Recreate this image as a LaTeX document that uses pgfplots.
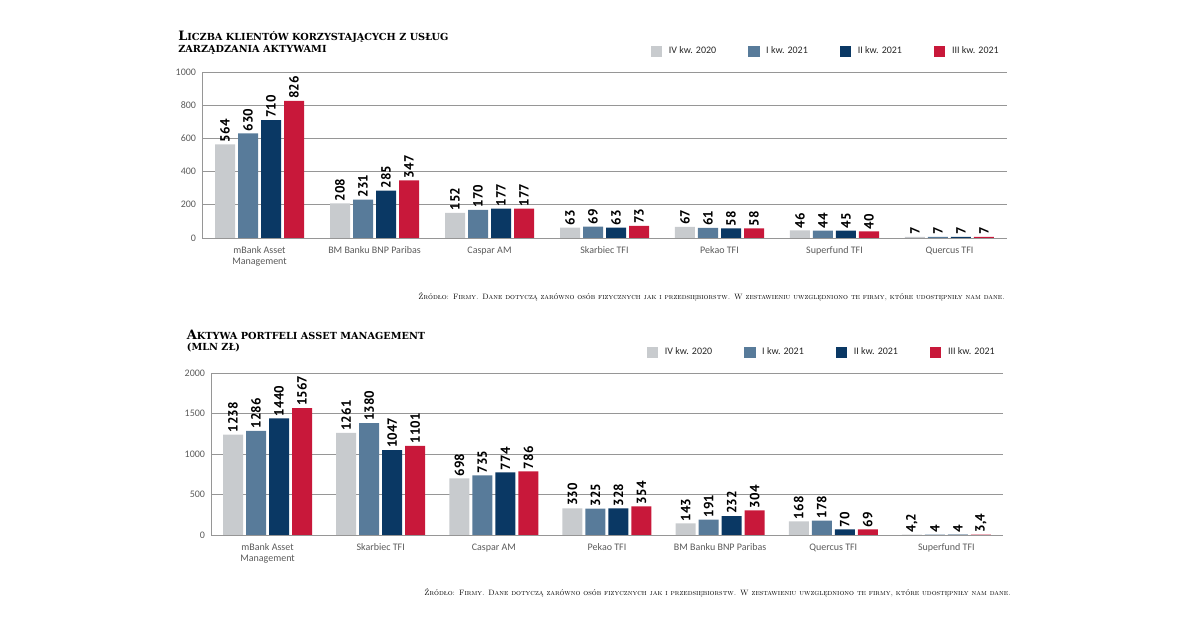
\documentclass[border=0pt]{standalone}
\usepackage{pgfplots}
\pgfplotsset{compat=1.18}
\usepackage{fontspec}
\newfontfamily\valfont{PT Sans}
\newfontfamily\catfont{Carlito}
\newfontfamily\titfont{DejaVu Serif}

\definecolor{cGray}{RGB}{200,203,206}
\definecolor{cSteel}{RGB}{88,123,154}
\definecolor{cNavy}{RGB}{10,56,100}
\definecolor{cRed}{RGB}{200,24,58}
\definecolor{gridc}{RGB}{150,150,150}
\definecolor{txt}{RGB}{90,90,90}

\newcommand\fsc[2]{{\fontsize{9.7}{10}\selectfont #1}{\fontsize{7.3}{8}\selectfont #2}}

\pgfplotsset{
  kl/.style={
    scale only axis, anchor=south west,
    ybar=2.25pt, bar width=15pt,
    axis lines*=left, axis line style={gridc, line width=0.7pt},
    ymajorgrids, grid style={gridc, line width=0.7pt},
    major tick length=0,
    xmin=-0.5, xmax=6.5, xtick={0,...,6}, ymin=0,
    tick label style={font=\catfont\fontsize{7.5}{8}\selectfont, text=txt},
    xticklabel style={align=center, yshift=-3pt},
    yticklabel style={xshift=-1pt},
    /pgf/number format/assume math mode=true,
    /pgf/number format/use comma,
    /pgf/number format/1000 sep={},
    nodes near coords,
    nodes near coords style={rotate=90, anchor=west, text=black,
      font=\valfont\bfseries\fontsize{10}{10}\selectfont, inner sep=1.5pt},
    every axis plot post/.append style={legend image code/.code={\fill[##1,draw=none] (0pt,-4.25pt) rectangle (8.5pt,4.25pt);}},
    legend columns=4,
    legend style={at={(rel axis cs:1,1)}, anchor=south east, xshift=-4pt, yshift=10pt,
      draw=none, fill=none, inner sep=0pt, text=black!85,
      font=\catfont\fontsize{7.5}{8}\selectfont,
      /tikz/every even column/.append style={column sep=22pt},
      /tikz/every odd column/.append style={column sep=3pt}},
  }
}

\begin{document}
\begin{tikzpicture}
\path[use as bounding box] (0,0) rectangle (900pt,472.5pt);

% --- top chart: clients
\node[anchor=base west, inner sep=0, font=\titfont\bfseries] at (133.5pt,441.75pt)
  {\fsc{L}{ICZBA KLIENTÓW KORZYSTAJĄCYCH Z USŁUG}};
\node[anchor=base west, inner sep=0, font=\titfont\bfseries] at (133.5pt,432.75pt)
  {\fsc{}{ZARZĄDZANIA AKTYWAMI}};

\begin{axis}[kl, at={(151.5pt,294pt)}, width=603.75pt, height=124.5pt,
  ymax=1000, ytick={0,200,...,1000},
  xticklabels={{mBank Asset\\Management},{BM Banku BNP Paribas},{Caspar AM},{Skarbiec TFI},{Pekao TFI},{Superfund TFI},{Quercus TFI}}]
\addplot[fill=cGray, draw=none] coordinates {(0,564) (1,208) (2,152) (3,63) (4,67) (5,46) (6,7)};
\addplot[fill=cSteel, draw=none] coordinates {(0,630) (1,231) (2,170) (3,69) (4,61) (5,44) (6,7)};
\addplot[fill=cNavy, draw=none] coordinates {(0,710) (1,285) (2,177) (3,63) (4,58) (5,45) (6,7)};
\addplot[fill=cRed, draw=none] coordinates {(0,826) (1,347) (2,177) (3,73) (4,58) (5,40) (6,7)};
\legend{IV kw. 2020, I kw. 2021, II kw. 2021, III kw. 2021}
\end{axis}

\node[anchor=base east, inner sep=0, font=\fontsize{5.8}{6}\selectfont\scshape] at (753.75pt,247.5pt)
  {Źródło: Firmy. Dane dotyczą zarówno osób fizycznych jak i przedsiębiorstw. W zestawieniu uwzględniono te firmy, które udostępniły nam dane.};

% --- bottom chart: assets
\node[anchor=base west, inner sep=0, font=\titfont\bfseries] at (140pt,217.5pt)
  {\fsc{A}{KTYWA PORTFELI ASSET MANAGEMENT}};
\node[anchor=base west, inner sep=0, font=\titfont\bfseries] at (140pt,209.25pt)
  {\fsc{}{(MLN ZŁ)}};

\begin{axis}[kl, at={(158.25pt,71.25pt)}, width=594pt, height=121.5pt,
  ymax=2000, ytick={0,500,...,2000},
  xticklabels={{mBank Asset\\Management},{Skarbiec TFI},{Caspar AM},{Pekao TFI},{BM Banku BNP Paribas},{Quercus TFI},{Superfund TFI}}]
\addplot[fill=cGray, draw=none] coordinates {(0,1238) (1,1261) (2,698) (3,330) (4,143) (5,168) (6,4.2)};
\addplot[fill=cSteel, draw=none] coordinates {(0,1286) (1,1380) (2,735) (3,325) (4,191) (5,178) (6,4)};
\addplot[fill=cNavy, draw=none] coordinates {(0,1440) (1,1047) (2,774) (3,328) (4,232) (5,70) (6,4)};
\addplot[fill=cRed, draw=none] coordinates {(0,1567) (1,1101) (2,786) (3,354) (4,304) (5,69) (6,3.4)};
\legend{IV kw. 2020, I kw. 2021, II kw. 2021, III kw. 2021}
\end{axis}

\node[anchor=base east, inner sep=0, font=\fontsize{5.8}{6}\selectfont\scshape] at (758.25pt,25.5pt)
  {Źródło: Firmy. Dane dotyczą zarówno osób fizycznych jak i przedsiębiorstw. W zestawieniu uwzględniono te firmy, które udostępniły nam dane.};
\end{tikzpicture}
\end{document}
